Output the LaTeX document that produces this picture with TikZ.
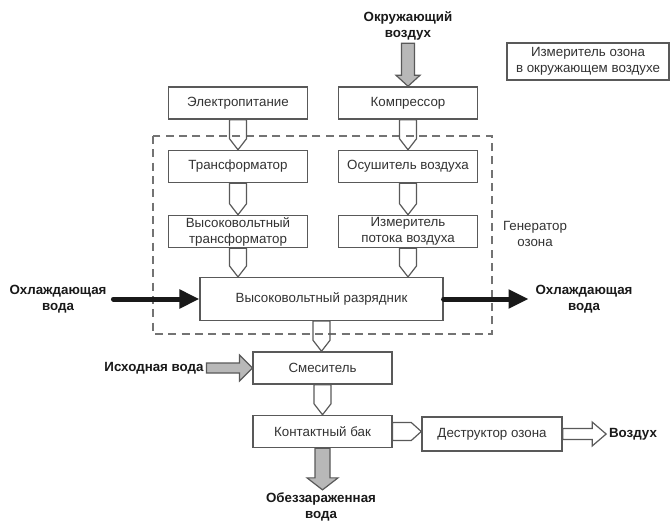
\documentclass[tikz,border=0pt]{standalone}
\usepackage{fontspec}
\setmainfont{Liberation Sans}
\usetikzlibrary{calc}
\usetikzlibrary{arrows.meta}

\tikzset{
    box/.style={draw=black!65, line width=1.1pt, fill=white, inner sep=1pt,
        minimum width=104pt, minimum height=24pt, align=center,
        text=black!80, font=\fontsize{10}{12}\selectfont},
    lbl/.style={inner sep=2pt, align=center, text=black!90,
        font=\bfseries\fontsize{10}{12}\selectfont},
    tube/.style={draw=black!65, line width=0.9pt, line join=miter},
    grayflow/.style={tube, fill=black!28},
    coolant/.style={line width=3.75pt, line cap=round, black!90,
        -{Triangle[length=15pt, width=13.5pt]}},
    genframe/.style={draw=black!55, line width=0.9pt, dash pattern=on 6pt off 4pt}
}

% block arrows: #1 style, #2 from, #3 to, #4 half shaft, #5 half head, #6 head length
\newcommand{\blockdown}[6]{%
    \draw[#1] ($(#2)+(-#4,0)$) -- ($(#2 |- #3)+(-#4,-#6)$) -- ($(#2 |- #3)+(-#5,-#6)$)
        -- (#2 |- #3) -- ($(#2 |- #3)+(#5,-#6)$) -- ($(#2 |- #3)+(#4,-#6)$)
        -- ($(#2)+(#4,0)$) -- cycle;}
\newcommand{\blockright}[6]{%
    \draw[#1] ($(#2)+(0,-#4)$) -- ($(#2 -| #3)+(-#6,-#4)$) -- ($(#2 -| #3)+(-#6,-#5)$)
        -- (#2 -| #3) -- ($(#2 -| #3)+(-#6,#5)$) -- ($(#2 -| #3)+(-#6,#4)$)
        -- ($(#2)+(0,#4)$) -- cycle;}

\begin{document}
\begin{tikzpicture}[x=0.75pt, y=-0.75pt]
\useasboundingbox (0,0) rectangle (670,521);

% ===================== OZONE GENERATOR FRAME =====================
\draw[genframe] (153,136) rectangle (492,334);
\node[align=center, text=black!80, font=\fontsize{10}{12}\selectfont] (genlbl) at (535,234) {Генератор\\озона};

% ===================== LEFT COLUMN: POWER =====================
\node[box] (pwr)   at (238,103)   {Электропитание};
\node[box] (trf)   at (238,166.5) {Трансформатор};
\node[box] (hvtrf) at (238,231.5) {Высоковольтный\\трансформатор};

% ===================== RIGHT COLUMN: AIR =====================
\node[lbl] (airin) at (408,26) {Окружающий\\воздух};
\node[box] (comp)  at (408,103)   {Компрессор};
\node[box] (dry)   at (408,166.5) {Осушитель воздуха};
\node[box] (flow)  at (408,231.5) {Измеритель\\потока воздуха};

\node[box, minimum width=121.5pt, minimum height=27.75pt] (meter) at (588,61.5)
    {Измеритель озона\\в окружающем воздухе};

% ===================== DISCHARGER AND WATER LINE =====================
\node[box, minimum width=182pt, minimum height=32pt] (disch) at (321.5,299) {Высоковольтный разрядник};
\node[box] (mix)  at (322.5,368)   {Смеситель};
\node[box] (tank) at (322.5,431.5) {Контактный бак};
\node[box, minimum width=105pt, minimum height=25.5pt] (dstr) at (492,434) {Деструктор озона};

\node[lbl] (coolin)   at (58,299)  {Охлаждающая\\вода};
\node[lbl] (coolout)  at (584,299) {Охлаждающая\\вода};
\node[lbl] (rawwater) at (154,368) {Исходная вода};
\node[lbl] (airout)   at (633,434) {Воздух};
\node[lbl] (outwater) at (321,507) {Обеззараженная\\вода};

% ===================== CONNECTORS =====================
\blockdown{tube}{pwr.south}{trf.north}{8.5}{8.5}{11}
\blockdown{tube}{trf.south}{hvtrf.north}{8.5}{8.5}{11}
\blockdown{tube}{hvtrf.south}{disch.north}{8.5}{8.5}{11}
\blockdown{tube}{comp.south}{dry.north}{8.5}{8.5}{11}
\blockdown{tube}{dry.south}{flow.north}{8.5}{8.5}{11}
\blockdown{tube}{flow.south}{disch.north}{8.5}{8.5}{11}
\blockdown{tube}{disch.south}{mix.north}{8.5}{8.5}{11}
\blockdown{tube}{mix.south}{tank.north}{8.5}{8.5}{11}

\blockdown{grayflow}{airin.south}{comp.north}{6.5}{12}{11}
\blockdown{grayflow}{tank.south}{outwater.north}{7.5}{15.5}{12}
\blockright{grayflow}{rawwater.east}{mix.west}{5}{13}{13}

\blockright{tube}{tank.east}{dstr.west}{9}{9}{10}
\blockright{tube}{dstr.east}{airout.west}{5.5}{12}{14}

\draw[coolant, shorten <=3pt] (coolin.east) -- (disch.west);
\draw[coolant, shorten >=3pt] (disch.east) -- (coolout.west);

\end{tikzpicture}
\end{document}
